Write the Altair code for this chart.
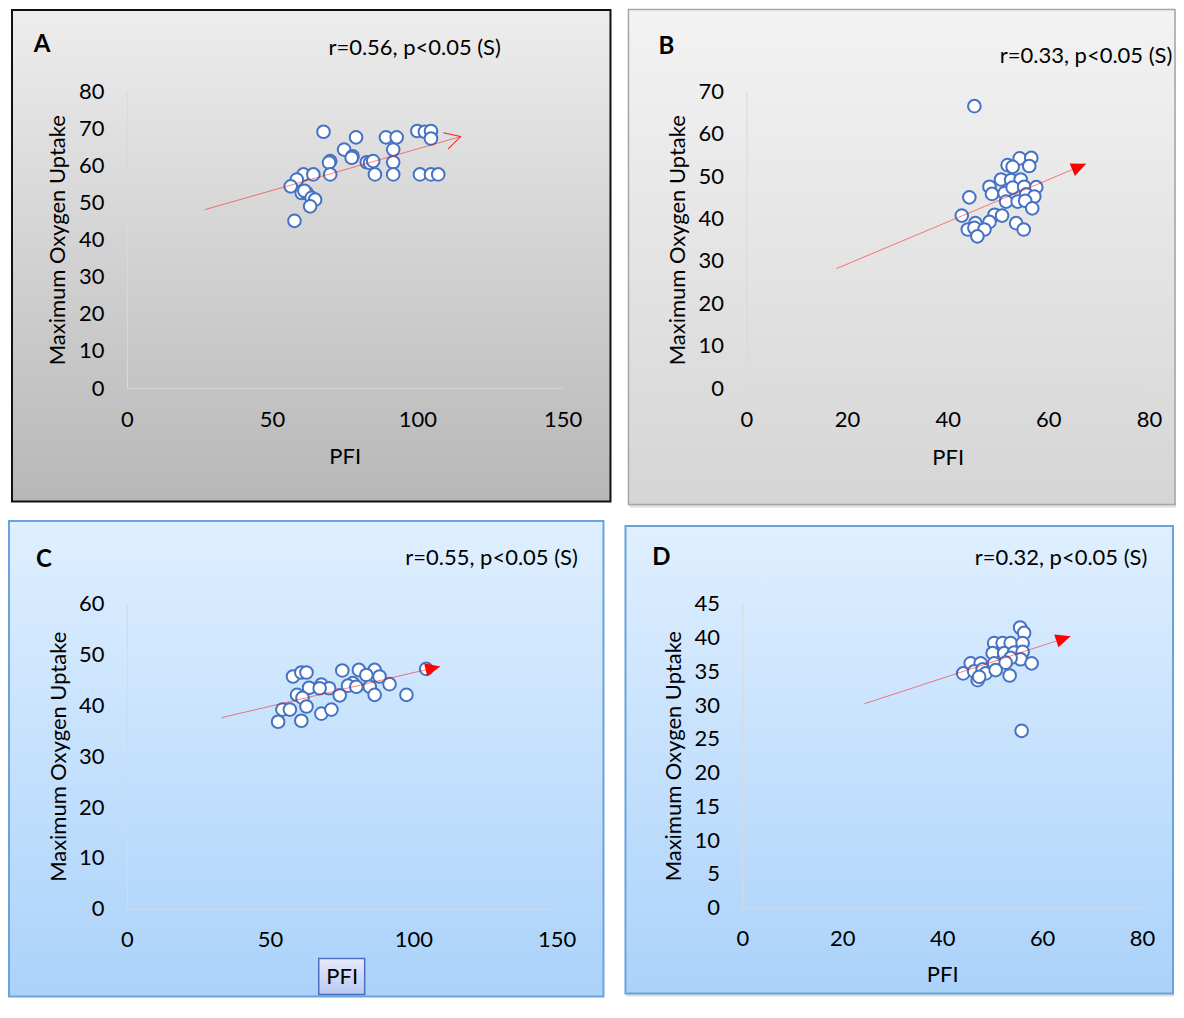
import altair as alt
import pandas as pd

FONT = "Lato"

# ---------------- data ----------------
a_pfi = [67.7, 78.9, 89.2, 92.9, 100.0, 102.6, 104.7, 104.7, 91.7, 74.8, 77.7, 77.4,
         70.0, 69.6, 82.6, 83.7, 84.8, 91.7, 70.0, 85.4, 91.7, 100.9, 104.7, 107.2,
         60.8, 64.2, 58.5, 56.4, 60.2, 61.9, 61.1, 63.6, 64.8, 63.1, 57.7]
a_vo2 = [69.1, 67.6, 67.6, 67.6, 69.3, 69.1, 69.3, 67.3, 64.3, 64.3, 62.5, 62.1,
         61.2, 60.8, 60.9, 60.7, 61.2, 60.9, 57.6, 57.6, 57.6, 57.6, 57.6, 57.6,
         57.6, 57.6, 56.2, 54.4, 52.6, 52.6, 53.2, 51.3, 50.8, 49.0, 45.1]

b_pfi = [45.3, 54.3, 56.6, 56.2, 51.9, 52.9, 50.6, 52.6, 54.5, 48.3, 48.8, 51.3,
         52.9, 55.2, 57.6, 55.6, 57.2, 51.6, 53.9, 55.4, 44.3, 56.8, 42.8, 49.3,
         50.8, 45.5, 48.3, 53.6, 55.1, 44.0, 45.3, 47.3, 45.9]
b_vo2 = [66.5, 54.2, 54.3, 52.4, 52.6, 52.2, 49.2, 49.1, 49.2, 47.5, 45.8, 46.0,
         47.3, 47.5, 47.4, 45.7, 45.2, 44.0, 44.0, 44.2, 45.0, 42.4, 40.7, 40.9,
         40.7, 38.9, 39.2, 38.9, 37.4, 37.4, 37.8, 37.4, 35.8]

c_pfi = [58.0, 60.9, 62.7, 75.2, 81.0, 86.5, 83.6, 88.2, 91.7, 63.6, 67.9, 70.6,
         67.3, 59.4, 61.3, 62.7, 74.3, 78.9, 77.2, 80.1, 84.8, 86.5, 97.6, 54.3,
         52.8, 56.9, 60.9, 67.9, 71.4, 104.5]
c_vo2 = [45.7, 46.5, 46.5, 46.9, 47.0, 47.0, 46.0, 45.7, 44.2, 43.5, 44.1, 43.4,
         43.4, 42.1, 41.5, 39.8, 42.0, 44.4, 43.9, 43.7, 43.7, 42.1, 42.1, 39.2,
         36.8, 39.2, 37.0, 38.4, 39.2, 47.2]

d_pfi = [55.6, 56.4, 50.4, 52.1, 53.7, 56.1, 50.1, 52.4, 54.4, 56.1, 55.7, 57.9,
         53.7, 45.7, 47.7, 50.4, 52.7, 44.2, 46.4, 48.1, 48.7, 50.7, 47.1, 53.5,
         55.9, 47.4]
d_vo2 = [41.5, 40.7, 39.2, 39.2, 39.2, 39.2, 37.7, 37.7, 37.8, 37.9, 36.8, 36.2,
         37.0, 36.2, 36.2, 36.2, 36.3, 34.7, 35.0, 35.3, 34.7, 35.2, 33.7, 34.4,
         26.2, 34.2]

# trend arrows: start PFI, start VO2, end PFI, end VO2
a_trend = [26.8, 48.1, 114.9, 67.8]
b_trend = [17.9, 28.2, 67.5, 52.9]
c_trend = [33.0, 37.6, 109.4, 47.7]
d_trend = [24.4, 30.2, 65.7, 40.2]

letters = ["A", "B", "C", "D"]
notes = ["r=0.56, p<0.05 (S)", "r=0.33, p<0.05 (S)",
         "r=0.55, p<0.05 (S)", "r=0.32, p<0.05 (S)"]
x_title = "PFI"
y_title = "Maximum Oxygen Uptake"

a_xticks, a_yticks = [0, 50, 100, 150], [0, 10, 20, 30, 40, 50, 60, 70, 80]
b_xticks, b_yticks = [0, 20, 40, 60, 80], [0, 10, 20, 30, 40, 50, 60, 70]
c_xticks, c_yticks = [0, 50, 100, 150], [0, 10, 20, 30, 40, 50, 60]
d_xticks, d_yticks = [0, 20, 40, 60, 80], [0, 5, 10, 15, 20, 25, 30, 35, 40, 45]

AXIS_COLOR = "#d9d9d9"
DOT_STROKE = "#4472c4"
FS = 22

def grad(top, bottom):
    return alt.LinearGradient(gradient="linear",
                              stops=[alt.GradientStop(offset=0, color=top),
                                     alt.GradientStop(offset=1, color=bottom)],
                              x1=0, x2=0, y1=0, y2=1)

def panel(pfi, vo2, trend, letter, note, xticks, yticks, w, h,
          box, box_fill, box_stroke, box_sw, shadow, letter_pos, note_pos,
          xtitle_y, ytitle_x, arrow_angle, open_arrow, pfi_box=False):
    pts = pd.DataFrame({"PFI": pfi, "VO2": vo2})
    tr = pd.DataFrame({"x0": [trend[0]], "y0": [trend[1]],
                       "x1": [trend[2]], "y1": [trend[3]]})
    one = alt.Data(values=[{"k": 1}])

    xs = alt.Scale(domain=[xticks[0], xticks[-1]], nice=False, zero=False)
    ys = alt.Scale(domain=[yticks[0], yticks[-1]], nice=False, zero=False)
    common = dict(grid=False, ticks=False, tickSize=0, domainColor=AXIS_COLOR,
                  domainWidth=1, labelFont=FONT, labelFontSize=FS,
                  labelColor="#000", labelFlush=False, labelOverlap=False,
                  labelSeparation=0,
                  titleFont=FONT, titleFontSize=FS, titleFontWeight="normal",
                  titleColor="#000", titleAlign="center", titleBaseline="middle",
                  zindex=1)
    xaxis = alt.Axis(values=xticks, title=x_title, labelPadding=31,
                     labelBaseline="middle", titleX=w / 2, titleY=xtitle_y, **common)
    yaxis = alt.Axis(values=yticks, title=y_title, labelPadding=23,
                     titleX=ytitle_x, titleY=h / 2, **common)

    layers = []
    if shadow:
        layers.append(alt.Chart(one).mark_rect(fill="#c8c8c8", opacity=0.6).encode(
            x=alt.value(box[0] + 1), x2=alt.value(box[1] + 1),
            y=alt.value(box[2] + 3), y2=alt.value(box[3] + 3)))
    layers.append(alt.Chart(one).mark_rect(fill=box_fill, stroke=box_stroke,
                                           strokeWidth=box_sw).encode(
        x=alt.value(box[0]), x2=alt.value(box[1]),
        y=alt.value(box[2]), y2=alt.value(box[3])))
    if pfi_box:
        layers.append(alt.Chart(one).mark_rect(
            fill=grad("#e6ebfb", "#b8c8f0"), stroke="#4a6fc0", strokeWidth=1.5).encode(
            x=alt.value(w / 2 - 23), x2=alt.value(w / 2 + 23),
            y=alt.value(h + 50), y2=alt.value(h + 86)))
    layers.append(alt.Chart(pts).mark_point(
        shape="circle", filled=True, fill="white", stroke=DOT_STROKE,
        strokeWidth=2, size=160, opacity=1).encode(
        x=alt.X("PFI:Q", scale=xs, axis=xaxis),
        y=alt.Y("VO2:Q", scale=ys, axis=yaxis)))
    layers.append(alt.Chart(tr).mark_rule(color="#ff0000", strokeWidth=0.9,
                                          opacity=0.55).encode(
        x=alt.X("x0:Q", scale=xs, axis=xaxis), y=alt.Y("y0:Q", scale=ys, axis=yaxis),
        x2="x1:Q", y2="y1:Q"))
    if open_arrow:
        arrow = alt.Chart(tr).mark_point(
            shape="M-2,-1.1L0,0L-2,1.1", filled=False, stroke="#ff0000",
            strokeWidth=1, opacity=0.85, size=240, angle=arrow_angle)
    else:
        arrow = alt.Chart(tr).mark_point(
            shape="M0,0L-2,-0.9L-2,0.9Z", filled=True, fill="#ff0000",
            strokeWidth=0, opacity=1, size=225, angle=arrow_angle)
    layers.append(arrow.encode(x=alt.X("x1:Q", scale=xs, axis=xaxis),
                               y=alt.Y("y1:Q", scale=ys, axis=yaxis)))
    layers.append(alt.Chart(one).mark_text(
        text=letter, font=FONT, fontSize=24, fontWeight="bold", color="#000",
        align="center", baseline="middle").encode(
        x=alt.value(letter_pos[0]), y=alt.value(letter_pos[1])))
    layers.append(alt.Chart(one).mark_text(
        text=note, font=FONT, fontSize=FS, color="#000",
        align="center", baseline="middle").encode(
        x=alt.value(note_pos[0]), y=alt.value(note_pos[1])))
    return alt.layer(*layers).properties(width=w, height=h)

gray_a = grad("#ededed", "#b7b7b7")
gray_b = grad("#f3f3f3", "#d5d5d5")
blue = grad("#dfefff", "#abd2fa")

# plots in a row share their top edge; boxes are placed around them
pA = panel(a_pfi, a_vo2, a_trend, letters[0], notes[0], a_xticks, a_yticks, 436, 297,
           box=(-115, 484, -81.5, 410.5), box_fill=gray_a, box_stroke="#111111", box_sw=2,
           shadow=False, letter_pos=(-85, -46.5), note_pos=(288, -43.5), xtitle_y=68,
           ytitle_x=-69.5, arrow_angle=344, open_arrow=True)
pB = panel(b_pfi, b_vo2, b_trend, letters[1], notes[1], b_xticks, b_yticks, 403, 297,
           box=(-118, 429, -82, 413.5), box_fill=gray_b, box_stroke="#a6a6a6", box_sw=1.5,
           shadow=True, letter_pos=(-80, -44), note_pos=(340, -35.5), xtitle_y=69,
           ytitle_x=-68.5, arrow_angle=337, open_arrow=False)
pC = panel(c_pfi, c_vo2, c_trend, letters[2], notes[2], c_xticks, c_yticks, 430, 305,
           box=(-118, 477, -83, 393), box_fill=blue, box_stroke="#6aa3dc", box_sw=2,
           shadow=False, letter_pos=(-83, -44), note_pos=(365, -46), xtitle_y=68,
           ytitle_x=-68.5, arrow_angle=347, open_arrow=False, pfi_box=True)
pD = panel(d_pfi, d_vo2, d_trend, letters[3], notes[3], d_xticks, d_yticks, 400, 304,
           box=(-117, 431, -78, 390), box_fill=blue, box_stroke="#6aa3dc", box_sw=2,
           shadow=True, letter_pos=(-81, -46), note_pos=(319, -46), xtitle_y=67,
           ytitle_x=-68.5, arrow_angle=342, open_arrow=False)

row1 = alt.hconcat(pA, pB, spacing=16, bounds="full")
row2 = alt.hconcat(pC, pD, spacing=20, bounds="full")
chart = alt.vconcat(row1, row2, spacing=12, bounds="full").properties(
    padding=0, background="white"
).configure_view(stroke=None).configure_axis(labelOverlap=False)

chart.save("out.html", embed_options={"renderer": "svg", "actions": False})
